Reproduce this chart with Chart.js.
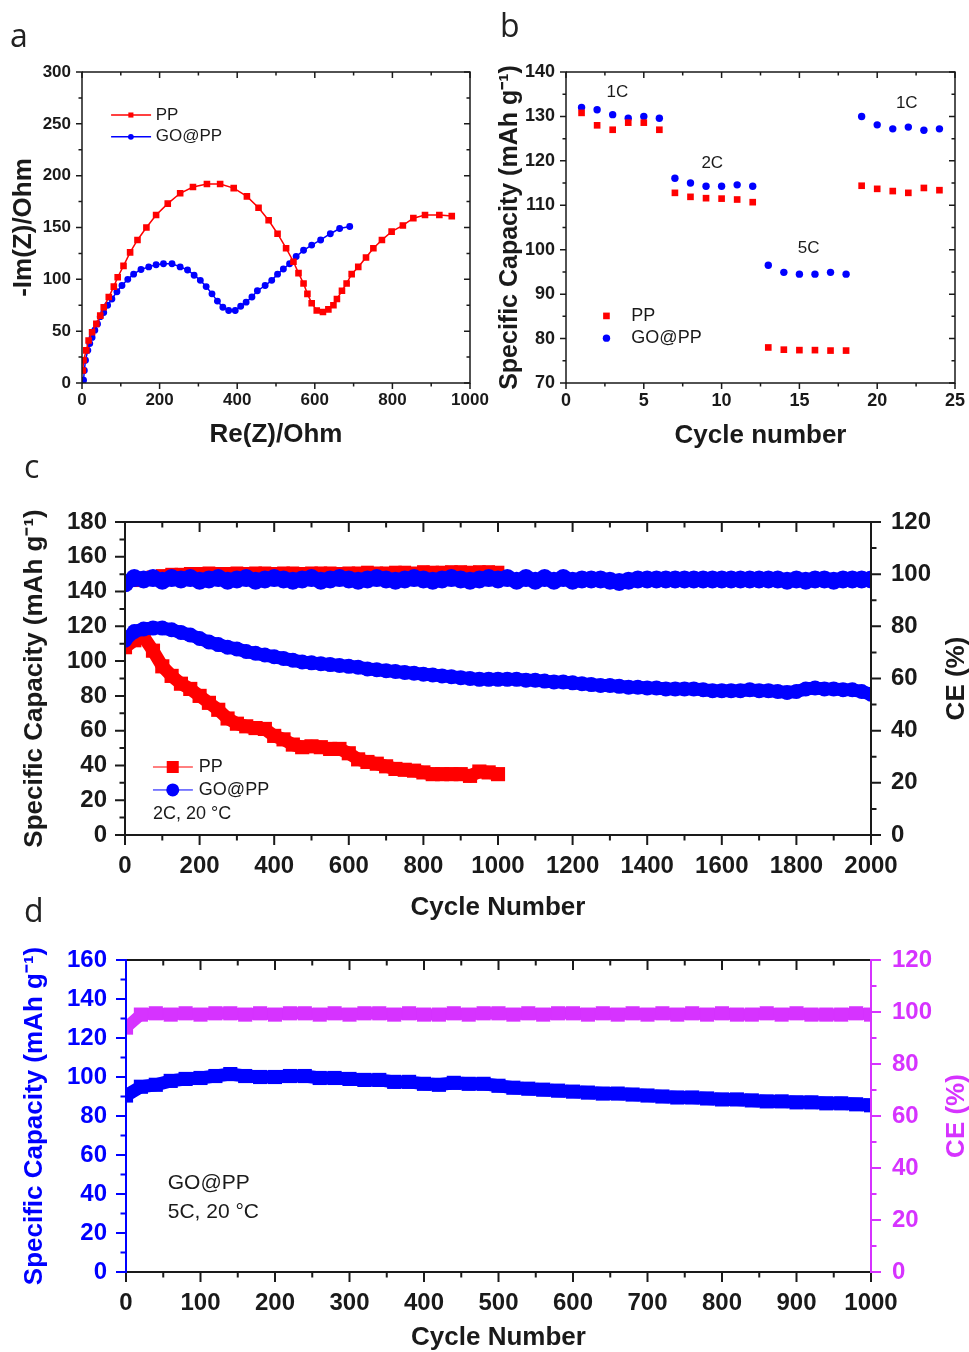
<!DOCTYPE html>
<html>
<head>
<meta charset="utf-8">
<script src="https://cdn.jsdelivr.net/npm/chart.js@4.4.0/dist/chart.umd.min.js"></script>
<style>
  body { margin: 0; background: #fff; width: 969px; height: 1352px; position: relative; overflow: hidden; }
  .panel { position: absolute; }
  svg.labels { position: absolute; left: 0; top: 0; pointer-events: none; }
</style>
</head>
<body>
<div class="panel" style="left:0;top:0;width:490px;height:460px"><canvas id="chartA"></canvas></div>
<div class="panel" style="left:490px;top:0;width:479px;height:460px"><canvas id="chartB"></canvas></div>
<div class="panel" style="left:0;top:480px;width:969px;height:450px"><canvas id="chartC"></canvas></div>
<div class="panel" style="left:0;top:930px;width:969px;height:422px"><canvas id="chartD"></canvas></div>
<svg class="labels" width="969" height="1352">
  <g font-family="Open Sans" font-size="32" fill="#222">
    <text x="10" y="47">a</text>
    <text x="500" y="37">b</text>
    <text x="24" y="478">c</text>
    <text x="24" y="922">d</text>
  </g>
</svg>
<script>
// (a) Nyquist plots
const ppRe = [2, 4, 11, 17, 26, 37, 47, 56, 69, 82, 92, 107, 124, 143, 166, 191, 221, 253, 286, 322, 356, 391, 425, 455, 481, 504, 526, 545, 558, 571, 581, 592, 605, 621, 635, 648, 657, 670, 682, 695, 712, 732, 751, 773, 798, 827, 854, 884, 921, 953];
const ppIm = [12, 22, 31.5, 41, 49, 57, 65, 73, 83, 93, 102, 113, 126, 138, 150, 162, 173, 183, 189, 192, 192, 188, 180, 169, 157, 144, 130, 117, 106, 96, 86, 77, 70, 68.5, 71, 75, 81, 89, 96, 105, 112, 121, 130, 138, 146, 152, 159, 162, 162, 161];
const goRe = [4, 6, 9, 15, 20, 26, 33, 40, 47, 56, 66, 77, 90, 103, 118, 133, 152, 172, 191, 210, 232, 253, 272, 289, 305, 320, 335, 349, 363, 378, 395, 409, 423, 438, 452, 472, 489, 504, 519, 535, 552, 571, 592, 615, 640, 664, 690];
const goIm = [2.6, 12, 22, 31.5, 38, 44, 51, 57, 64, 68, 75, 81, 88, 94, 100, 105, 109.5, 112, 114, 115, 115, 112, 109, 104, 99, 93, 86, 79, 73, 70, 70, 74, 78, 83, 89, 94, 99, 105, 110, 115, 122, 128, 133, 138, 144, 149, 151];

// (b) rate capability
const rateCycles = [1, 2, 3, 4, 5, 6, 7, 8, 9, 10, 11, 12, 13, 14, 15, 16, 17, 18, 19, 20, 21, 22, 23, 24];
const ratePP = [130.8, 128, 127, 128.6, 128.6, 127, 112.8, 111.9, 111.6, 111.5, 111.3, 110.7, 78, 77.5, 77.4, 77.4, 77.3, 77.3, 114.4, 113.7, 113.2, 112.8, 113.9, 113.4];
const rateGO = [132, 131.5, 130.4, 129.6, 130, 129.6, 116.1, 115, 114.3, 114.3, 114.6, 114.3, 96.5, 94.9, 94.5, 94.5, 94.9, 94.5, 130, 128.1, 127.2, 127.6, 126.9, 127.2];

// (c) 2C cycling, 20 °C
const cyclesPP2C = [0, 25, 50, 75, 100, 125, 150, 175, 200, 225, 250, 275, 300, 325, 350, 375, 400, 425, 450, 475, 500, 525, 550, 575, 600, 625, 650, 675, 700, 725, 750, 775, 800, 825, 850, 875, 900, 925, 950, 975, 1000];
const capPP2C = [108, 112, 114, 106, 97, 91.5, 87, 84, 80, 76, 72, 67, 64, 62.5, 61.5, 61, 57, 55, 52, 50.5, 51, 50.5, 49.5, 49.5, 47, 43.5, 42, 41, 39.5, 38, 37.5, 37, 36, 35, 35, 35, 35, 34, 36.5, 36, 35];
const cePP2C = [96.5, 97.5, 98.5, 99, 99.5, 100, 100, 100.3, 100.3, 100.5, 100.3, 100.3, 100.5, 100.3, 100.5, 100.5, 100.3, 100.5, 100.5, 100.3, 100.5, 100.5, 100.5, 100.3, 100.5, 100.5, 100.8, 100.5, 100.5, 100.8, 100.8, 100.5, 101, 100.8, 100.8, 101, 101, 100.8, 101, 101, 100.8];
const cyclesGO2C = [0, 25, 50, 75, 100, 125, 150, 175, 200, 225, 250, 275, 300, 325, 350, 375, 400, 425, 450, 475, 500, 525, 550, 575, 600, 625, 650, 675, 700, 725, 750, 775, 800, 825, 850, 875, 900, 925, 950, 975, 1000, 1025, 1050, 1075, 1100, 1125, 1150, 1175, 1200, 1225, 1250, 1275, 1300, 1325, 1350, 1375, 1400, 1425, 1450, 1475, 1500, 1525, 1550, 1575, 1600, 1625, 1650, 1675, 1700, 1725, 1750, 1775, 1800, 1825, 1850, 1875, 1900, 1925, 1950, 1975, 2000];
const capGO2C = [112, 117, 118.5, 119, 119, 118, 116.5, 115, 113, 111, 109.5, 108, 107, 105.5, 104.5, 103.5, 102.5, 101.5, 100.5, 99.5, 99, 98.5, 98, 97.5, 97, 96.5, 95.5, 95, 94.5, 94, 93.5, 93, 92.5, 92, 91.5, 91, 90.5, 90, 89.5, 89.5, 89.5, 89.5, 89.5, 89, 89, 88.5, 88, 88, 87.5, 87, 86.5, 86, 86, 85.5, 85, 85, 84.5, 84.5, 84, 84, 84, 84, 83.5, 83, 83, 83, 83, 83.5, 83, 83, 82.5, 82, 82.5, 84, 84.5, 84, 84, 83.5, 83.5, 82.5, 81];
const ceGO2C = [96.5, 98.5, 98, 98.5, 97.5, 98.5, 98, 98.5, 97.5, 98, 98.5, 97.5, 98, 98.5, 97.5, 98, 98.5, 98, 97.5, 98, 98.5, 97.5, 98, 98.5, 98, 97.5, 98, 98.5, 98, 97.5, 98, 98.5, 98, 97.5, 98, 98.5, 98, 97.5, 98, 98.5, 98, 98.5, 97.5, 98.5, 97.5, 98.5, 97.5, 98.5, 97.5, 98, 98, 98, 97.5, 97, 97.5, 98, 98, 98, 98, 98, 98, 98, 98, 98, 98, 98, 98, 98, 98, 98, 98, 97.5, 98, 97.5, 98, 98, 97.5, 98, 98, 98, 98];

// (d) 5C cycling, GO@PP
const cycles5C = [0, 20, 40, 60, 80, 100, 120, 140, 160, 180, 200, 220, 240, 260, 280, 300, 320, 340, 360, 380, 400, 420, 440, 460, 480, 500, 520, 540, 560, 580, 600, 620, 640, 660, 680, 700, 720, 740, 760, 780, 800, 820, 840, 860, 880, 900, 920, 940, 960, 980, 1000];
const cap5C = [90.5, 95, 96, 98, 99, 99.5, 100.5, 101.5, 100.5, 100, 100, 100.5, 100.5, 99.5, 99.5, 99, 98.5, 98.5, 97.5, 97.5, 96.5, 96, 97, 96.5, 96.5, 95.5, 94.5, 94, 93.5, 93, 92.5, 92, 91.5, 91.5, 91, 90.5, 90, 89.5, 89.5, 89, 88.5, 88.5, 88, 87.5, 87.5, 87, 87, 86.5, 86.5, 86, 85.5];
const ce5C = [94, 99, 99.5, 99, 99.5, 99, 99.5, 99.5, 99, 99.5, 99, 99.5, 99.5, 99, 99.5, 99, 99.5, 99.5, 99, 99.5, 99, 99, 99.5, 99, 99.5, 99.5, 99, 99.5, 99, 99.5, 99.5, 99, 99.5, 99, 99.5, 99, 99.5, 99, 99.5, 99, 99.5, 99, 99, 99.5, 99, 99.5, 99, 99, 99, 99.5, 99];

const RED = '#ff0000';
const BLUE = '#0000ff';
const PINK = '#d633ff';
const INK = '#1a1a1a';
const FAMILY = 'Liberation Sans';

const pts = (xs, ys) => xs.map((x, i) => ({ x: x, y: ys[i] }));
const bold = (size, lh) => ({ family: FAMILY, size: size, weight: 'bold', lineHeight: lh || 1.2 });
const plain = v => String(v);
const fitW = w => s => { s.width = w; s.paddingTop = 0; s.paddingBottom = 0; };
const fitH = h => s => { s.height = h; s.paddingLeft = 0; s.paddingRight = 0; };

function marker(ctx, style, x, y, r) {
  ctx.beginPath();
  if (style === 'rect') {
    const h = r * Math.SQRT1_2;
    ctx.rect(x - h, y - h, 2 * h, 2 * h);
  } else {
    ctx.arc(x, y, r, 0, Math.PI * 2);
  }
  ctx.fill();
}

// frame with Origin-style major/minor ticks on all four sides
const boxTicks = {
  id: 'boxTicks',
  afterDatasetsDraw(chart, args, o) {
    const { ctx, chartArea: a } = chart;
    ctx.save();
    ctx.lineWidth = o.width;
    const marks = (scale, major, minor, draw) => {
      const n = Math.round((scale.max - scale.min) / minor);
      for (let i = 0; i <= n; i++) {
        const v = scale.min + i * minor;
        const r = v / major;
        draw(scale.getPixelForValue(v), Math.abs(r - Math.round(r)) < 1e-6 ? o.major : o.minor);
      }
    };
    const side = (color, path) => {
      ctx.strokeStyle = color;
      ctx.beginPath();
      path();
      ctx.stroke();
    };
    const sx = chart.scales.x;
    const sy = chart.scales.y;
    const sr = chart.scales[o.rightScale];
    const rdir = o.rightOut ? 1 : -1;
    side(INK, () => {
      ctx.moveTo(a.left, a.bottom); ctx.lineTo(a.right, a.bottom);
      marks(sx, o.x[0], o.x[1], (p, l) => { ctx.moveTo(p, a.bottom); ctx.lineTo(p, a.bottom + l); });
    });
    side(INK, () => {
      ctx.moveTo(a.left, a.top); ctx.lineTo(a.right, a.top);
      marks(sx, o.x[0], o.x[1], (p, l) => { ctx.moveTo(p, a.top); ctx.lineTo(p, a.top + l); });
    });
    side(o.leftColor || INK, () => {
      ctx.moveTo(a.left, a.top - o.width / 2); ctx.lineTo(a.left, a.bottom + o.width / 2);
      marks(sy, o.y[0], o.y[1], (p, l) => { ctx.moveTo(a.left, p); ctx.lineTo(a.left - l, p); });
    });
    side(o.rightColor || INK, () => {
      ctx.moveTo(a.right, a.top - o.width / 2); ctx.lineTo(a.right, a.bottom + o.width / 2);
      marks(sr, o.r[0], o.r[1], (p, l) => { ctx.moveTo(a.right, p); ctx.lineTo(a.right + rdir * l, p); });
    });
    ctx.restore();
  }
};

// in-plot legends and notes, placed in data coordinates
const notes = {
  id: 'notes',
  afterDraw(chart, args, o) {
    const { ctx } = chart;
    const sx = chart.scales.x;
    const sy = chart.scales.y;
    ctx.save();
    (o.items || []).forEach(it => {
      const py = sy.getPixelForValue(it.y);
      if (it.line) {
        ctx.strokeStyle = it.color;
        ctx.lineWidth = it.lw;
        ctx.beginPath();
        ctx.moveTo(sx.getPixelForValue(it.line[0]), py);
        ctx.lineTo(sx.getPixelForValue(it.line[1]), py);
        ctx.stroke();
      }
      if (it.marker) {
        ctx.fillStyle = it.color;
        marker(ctx, it.marker, sx.getPixelForValue(it.mx), py, it.r);
      }
      if (it.text) {
        ctx.font = it.font;
        ctx.fillStyle = it.tc || INK;
        ctx.textAlign = it.align || 'left';
        ctx.textBaseline = 'middle';
        ctx.fillText(it.text, sx.getPixelForValue(it.x), py);
      }
    });
    ctx.restore();
  }
};

// right-hand axis title, read bottom to top
const sideTitle = {
  id: 'sideTitle',
  afterDraw(chart, args, o) {
    if (!o.text) return;
    const { ctx, chartArea: a } = chart;
    ctx.save();
    ctx.translate(o.x, (a.top + a.bottom) / 2);
    ctx.rotate(-Math.PI / 2);
    ctx.font = o.font;
    ctx.fillStyle = o.color;
    ctx.textAlign = 'center';
    ctx.textBaseline = 'middle';
    ctx.fillText(o.text, 0, 0);
    ctx.restore();
  }
};

const base = {
  responsive: true,
  maintainAspectRatio: false,
  animation: false,
  events: []
};
const noGrid = { display: false, drawTicks: false };

// ---------- (a)
new Chart(document.getElementById('chartA'), {
  type: 'scatter',
  data: {
    datasets: [{
      data: pts(ppRe, ppIm),
      showLine: true,
      borderColor: RED,
      backgroundColor: RED,
      borderWidth: 1.5,
      pointStyle: 'rect',
      pointRadius: 3.6
    }, {
      data: pts(goRe, goIm),
      showLine: true,
      borderColor: BLUE,
      backgroundColor: BLUE,
      borderWidth: 1.5,
      pointStyle: 'circle',
      pointRadius: 2.7
    }]
  },
  options: {
    ...base,
    layout: { padding: { top: 72, right: 20, left: 0, bottom: 0 } },
    plugins: {
      legend: { display: false },
      tooltip: { enabled: false },
      boxTicks: { width: 1.5, major: 6, minor: 3.5, x: [200, 100], y: [50, 25], rightScale: 'y', r: [50, 25], rightOut: false },
      notes: {
        items: [
          { y: 258.5, line: [75, 178], color: RED, lw: 1.5, marker: 'rect', mx: 126, r: 3.6, text: 'PP', x: 190, font: '17px "Liberation Sans"' },
          { y: 237.5, line: [75, 178], color: BLUE, lw: 1.5, marker: 'circle', mx: 126, r: 2.9, text: 'GO@PP', x: 190, font: '17px "Liberation Sans"' }
        ]
      }
    },
    scales: {
      x: {
        type: 'linear', min: 0, max: 1000,
        grid: noGrid, border: { display: false },
        ticks: { stepSize: 200, padding: 7, color: INK, font: bold(17), maxRotation: 0, autoSkip: false, callback: plain },
        title: { display: true, text: 'Re(Z)/Ohm', color: INK, font: bold(26, 1), padding: { top: 0, bottom: 12 } },
        afterFit: fitH(77)
      },
      y: {
        type: 'linear', min: 0, max: 300,
        grid: noGrid, border: { display: false },
        ticks: { stepSize: 50, padding: 11, color: INK, font: bold(17), callback: plain },
        title: { display: true, text: '-Im(Z)/Ohm', color: INK, font: bold(26, 1), padding: { top: 11, bottom: 0 } },
        afterFit: fitW(82)
      }
    }
  },
  plugins: [boxTicks, notes]
});

// ---------- (b)
new Chart(document.getElementById('chartB'), {
  type: 'scatter',
  data: {
    datasets: [{
      data: pts(rateCycles, ratePP),
      backgroundColor: RED,
      borderWidth: 0,
      pointStyle: 'rect',
      pointRadius: 4.7
    }, {
      data: pts(rateCycles, rateGO),
      backgroundColor: BLUE,
      borderWidth: 0,
      pointStyle: 'circle',
      pointRadius: 3.7
    }]
  },
  options: {
    ...base,
    layout: { padding: { top: 72, right: 14, left: 0, bottom: 0 } },
    plugins: {
      legend: { display: false },
      tooltip: { enabled: false },
      boxTicks: { width: 1.5, major: 6, minor: 3.5, x: [5, 2.5], y: [10, 5], rightScale: 'y', r: [10, 5], rightOut: false },
      notes: {
        items: [
          { y: 85.1, color: RED, marker: 'rect', mx: 2.6, r: 4.7, text: 'PP', x: 4.2, font: '18px "Liberation Sans"' },
          { y: 80.1, color: BLUE, marker: 'circle', mx: 2.6, r: 3.7, text: 'GO@PP', x: 4.2, font: '18px "Liberation Sans"' },
          { y: 135.5, x: 3.3, text: '1C', align: 'center', font: '17px "Liberation Sans"' },
          { y: 119.5, x: 9.4, text: '2C', align: 'center', font: '17px "Liberation Sans"' },
          { y: 100.4, x: 15.6, text: '5C', align: 'center', font: '17px "Liberation Sans"' },
          { y: 133, x: 21.9, text: '1C', align: 'center', font: '17px "Liberation Sans"' }
        ]
      }
    },
    scales: {
      x: {
        type: 'linear', min: 0, max: 25,
        grid: noGrid, border: { display: false },
        ticks: { stepSize: 5, padding: 7, color: INK, font: bold(18), maxRotation: 0, autoSkip: false, callback: plain },
        title: { display: true, text: 'Cycle number', color: INK, font: bold(26, 1), padding: { top: 0, bottom: 11 } },
        afterFit: fitH(77)
      },
      y: {
        type: 'linear', min: 70, max: 140,
        grid: noGrid, border: { display: false },
        ticks: { stepSize: 10, padding: 11, color: INK, font: bold(18), callback: plain },
        title: { display: true, text: 'Specific Capacity (mAh g⁻¹)', color: INK, font: bold(25, 1), padding: { top: 8, bottom: 0 } },
        afterFit: fitW(76)
      }
    }
  },
  plugins: [boxTicks, notes]
});

// ---------- (c)
new Chart(document.getElementById('chartC'), {
  type: 'scatter',
  data: {
    datasets: [{
      data: pts(cyclesGO2C, ceGO2C),
      yAxisID: 'y2',
      order: 0,
      showLine: true,
      borderColor: BLUE,
      backgroundColor: BLUE,
      borderWidth: 14,
      pointStyle: 'circle',
      pointRadius: 9,
      pointBorderWidth: 0
    }, {
      data: pts(cyclesGO2C, capGO2C),
      yAxisID: 'y',
      order: 0,
      showLine: true,
      borderColor: BLUE,
      backgroundColor: BLUE,
      borderWidth: 13,
      pointStyle: 'circle',
      pointRadius: 7.5,
      pointBorderWidth: 0
    }, {
      data: pts(cyclesPP2C, cePP2C),
      yAxisID: 'y2',
      order: 1,
      showLine: true,
      borderColor: RED,
      backgroundColor: RED,
      borderWidth: 11,
      pointStyle: 'rect',
      pointRadius: 9,
      pointBorderWidth: 0
    }, {
      data: pts(cyclesPP2C, capPP2C),
      yAxisID: 'y',
      order: 1,
      showLine: true,
      borderColor: RED,
      backgroundColor: RED,
      borderWidth: 13,
      pointStyle: 'rect',
      pointRadius: 10,
      pointBorderWidth: 0
    }]
  },
  options: {
    ...base,
    layout: { padding: { top: 42, right: 0, left: 0, bottom: 0 } },
    plugins: {
      legend: { display: false },
      tooltip: { enabled: false },
      boxTicks: { width: 2, major: 10, minor: 5.5, x: [200, 100], y: [20, 10], rightScale: 'y2', r: [20, 10], rightOut: true },
      notes: {
        items: [
          { y: 39.1, line: [75, 182], color: RED, lw: 1, marker: 'rect', mx: 128, r: 8.5, text: 'PP', x: 198, font: '18px "Liberation Sans"' },
          { y: 25.9, line: [75, 182], color: BLUE, lw: 1, marker: 'circle', mx: 128, r: 6.5, text: 'GO@PP', x: 198, font: '18px "Liberation Sans"' },
          { y: 12.1, x: 75, text: '2C, 20 °C', font: '18px "Liberation Sans"' }
        ]
      },
      sideTitle: { text: 'CE (%)', x: 957, color: INK, font: 'bold 26px "Liberation Sans"' }
    },
    scales: {
      x: {
        type: 'linear', min: 0, max: 2000,
        grid: noGrid, border: { display: false },
        ticks: { stepSize: 200, padding: 16.5, color: INK, font: bold(24), maxRotation: 0, autoSkip: false, callback: plain },
        title: { display: true, text: 'Cycle Number', color: INK, font: bold(26, 1), padding: { top: 0, bottom: 9 } },
        afterFit: fitH(95)
      },
      y: {
        type: 'linear', position: 'left', min: 0, max: 180,
        grid: noGrid, border: { display: false },
        ticks: { stepSize: 20, padding: 18, color: INK, font: bold(24), callback: plain },
        title: { display: true, text: 'Specific Capacity (mAh g⁻¹)', color: INK, font: bold(26, 1), padding: { top: 22, bottom: 0 } },
        afterFit: fitW(125)
      },
      y2: {
        type: 'linear', position: 'right', min: 0, max: 120,
        grid: noGrid, border: { display: false },
        ticks: { stepSize: 20, padding: 20, color: INK, font: bold(24), callback: plain },
        afterFit: fitW(98)
      }
    }
  },
  plugins: [boxTicks, notes, sideTitle]
});

// ---------- (d)
new Chart(document.getElementById('chartD'), {
  type: 'scatter',
  data: {
    datasets: [{
      data: pts(cycles5C, ce5C),
      yAxisID: 'y2',
      showLine: true,
      borderColor: PINK,
      backgroundColor: PINK,
      borderWidth: 12,
      pointStyle: 'rect',
      pointRadius: 10,
      pointBorderWidth: 0
    }, {
      data: pts(cycles5C, cap5C),
      yAxisID: 'y',
      showLine: true,
      borderColor: BLUE,
      backgroundColor: BLUE,
      borderWidth: 13,
      pointStyle: 'rect',
      pointRadius: 10,
      pointBorderWidth: 0
    }]
  },
  options: {
    ...base,
    layout: { padding: { top: 30, right: 0, left: 0, bottom: 0 } },
    plugins: {
      legend: { display: false },
      tooltip: { enabled: false },
      boxTicks: { width: 2, major: 10, minor: 5.5, x: [100, 50], y: [20, 10], rightScale: 'y2', r: [20, 10], rightOut: true, leftColor: BLUE, rightColor: PINK },
      notes: {
        items: [
          { y: 45.6, x: 56, text: 'GO@PP', font: '21px "Liberation Sans"' },
          { y: 30.8, x: 56, text: '5C, 20 °C', font: '21px "Liberation Sans"' }
        ]
      },
      sideTitle: { text: 'CE (%)', x: 957, color: PINK, font: 'bold 26px "Liberation Sans"' }
    },
    scales: {
      x: {
        type: 'linear', min: 0, max: 1000,
        grid: noGrid, border: { display: false },
        ticks: { stepSize: 100, padding: 16.5, color: INK, font: bold(24), maxRotation: 0, autoSkip: false, callback: plain },
        title: { display: true, text: 'Cycle Number', color: INK, font: bold(26, 1), padding: { top: 0, bottom: 1 } },
        afterFit: fitH(80)
      },
      y: {
        type: 'linear', position: 'left', min: 0, max: 160,
        grid: noGrid, border: { display: false },
        ticks: { stepSize: 20, padding: 19, color: BLUE, font: bold(24), callback: plain },
        title: { display: true, text: 'Specific Capacity (mAh g⁻¹)', color: BLUE, font: bold(26, 1), padding: { top: 22, bottom: 0 } },
        afterFit: fitW(126)
      },
      y2: {
        type: 'linear', position: 'right', min: 0, max: 120,
        grid: noGrid, border: { display: false },
        ticks: { stepSize: 20, padding: 21, color: PINK, font: bold(24), callback: plain },
        afterFit: fitW(98)
      }
    }
  },
  plugins: [boxTicks, notes, sideTitle]
});
</script>
</body>
</html>
